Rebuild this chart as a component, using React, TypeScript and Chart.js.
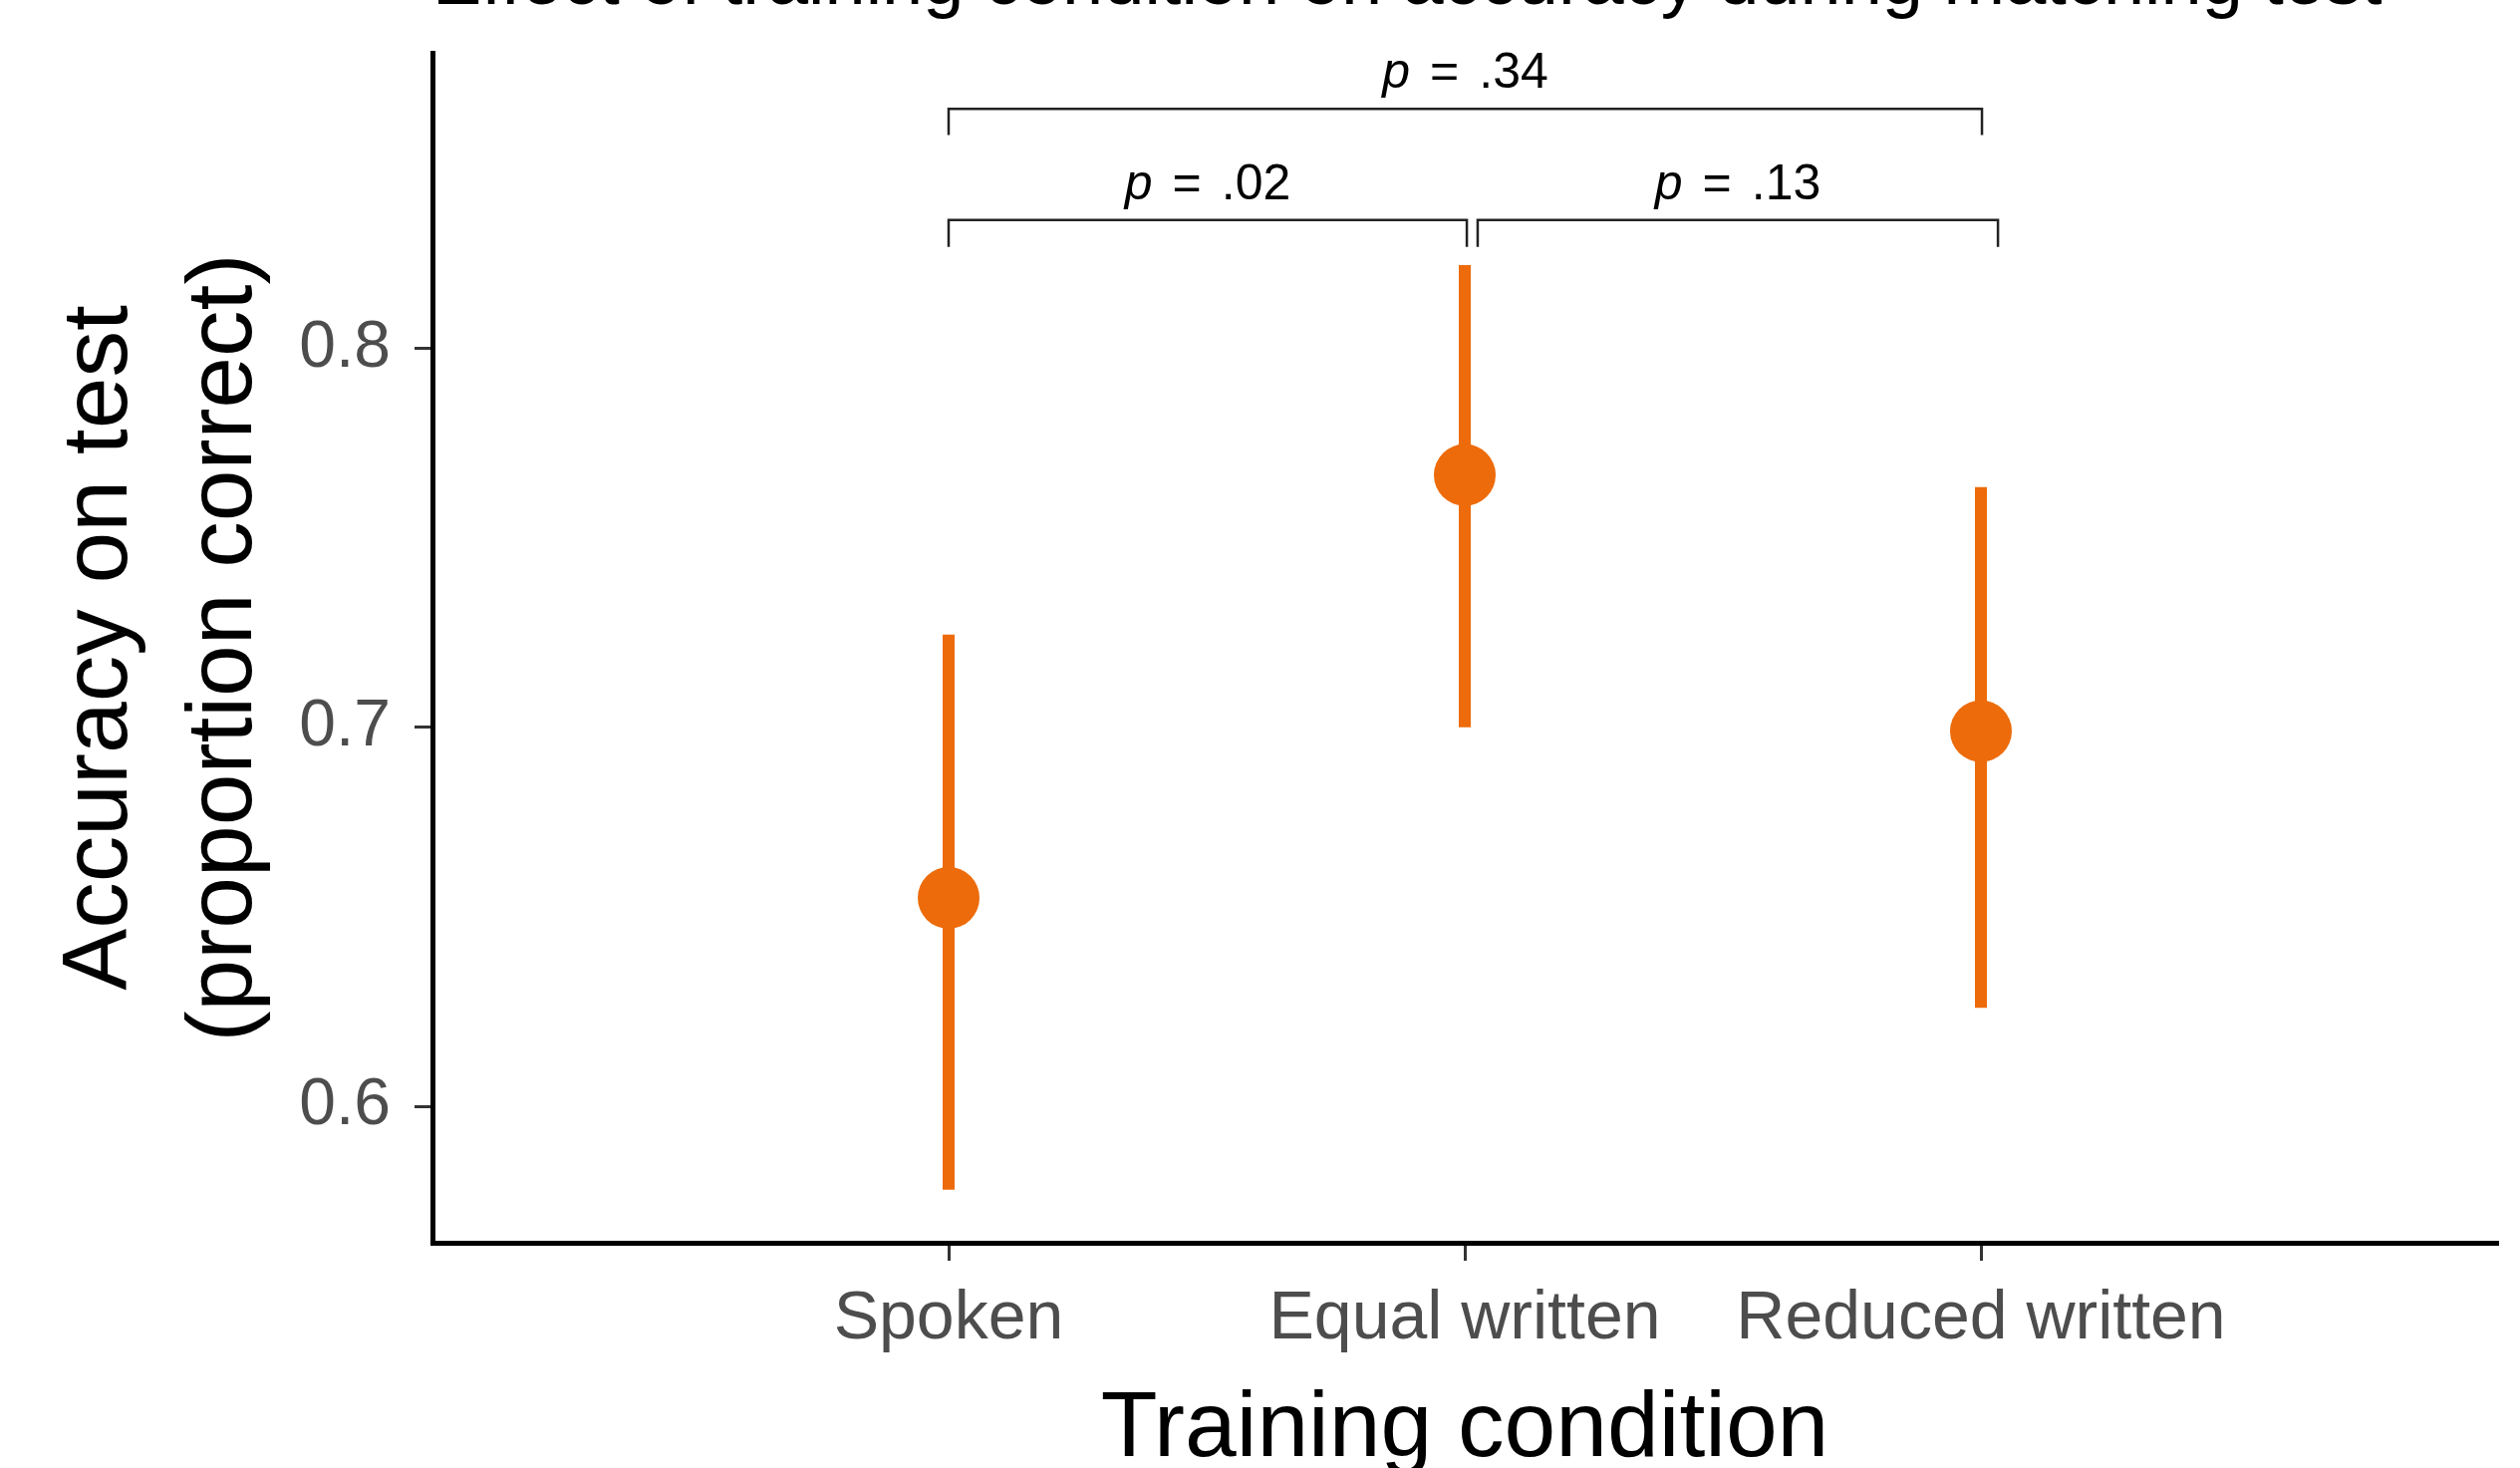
import React, { useEffect, useRef } from 'react';
import { Chart, registerables } from 'chart.js';

Chart.register(...registerables);

// ---------- data ----------
const categories = ['Spoken', 'Equal written', 'Reduced written'];
const categoryPositions = [1, 2, 3];
const means = [0.655, 0.7666, 0.699];
const ciLower = [0.578, 0.7, 0.626];
const ciUpper = [0.7245, 0.822, 0.7634];

const yTickValues = [0.6, 0.7, 0.8];
const yTickLabels = ['0.6', '0.7', '0.8'];

const comparisonLabels = ['.02', '.13', '.34'];
const comparisonStart = [1, 2.025, 1];
const comparisonEnd = [2.004, 3.033, 3.002];
const comparisonTop = [0.8339, 0.8339, 0.8632];
const comparisonTip = [0.8268, 0.8268, 0.8563];

const titleText = 'Effect of training condition on accuracy during matching test';
const xTitleText = 'Training condition';
const yTitleLines = ['Accuracy on test', '(proportion correct)'];

// ---------- styles ----------
const FONT = "'Liberation Sans', Arial, Helvetica, sans-serif";
const ORANGE = '#ED6B0A';

const annotationPlugin = {
  id: 'annotations',
  afterDraw(chart: any) {
    const { ctx, chartArea, scales } = chart;
    const xs = scales.x;
    const ys = scales.y;
    ctx.save();
    ctx.fillStyle = '#000';

    // main title (partly cut at top)
    ctx.font = `74px ${FONT}`;
    ctx.textAlign = 'left';
    ctx.textBaseline = 'alphabetic';
    ctx.fillText(titleText, chartArea.left, 4);

    // x axis title
    ctx.font = `93px ${FONT}`;
    ctx.textAlign = 'center';
    ctx.fillText(xTitleText, (chartArea.left + chartArea.right) / 2, 1461);

    // y axis title (two lines)
    ctx.save();
    ctx.translate(127, (chartArea.top + chartArea.bottom) / 2);
    ctx.rotate(-Math.PI / 2);
    ctx.textAlign = 'center';
    ctx.fillText(yTitleLines[0], 0, 0);
    ctx.fillText(yTitleLines[1], 0, 125);
    ctx.restore();

    // p-value labels
    const size = 50;
    const gap = size * 0.4;
    comparisonLabels.forEach((lab, i) => {
      const cx = (xs.getPixelForValue(comparisonStart[i]) + xs.getPixelForValue(comparisonEnd[i])) / 2;
      const by = ys.getPixelForValue(comparisonTop[i]) - 21;
      ctx.font = `italic ${size}px ${FONT}`;
      const wp = ctx.measureText('p').width;
      ctx.font = `${size}px ${FONT}`;
      const we = ctx.measureText('=').width;
      const wv = ctx.measureText(lab).width;
      const total = wp + gap + we + gap + wv;
      let x = cx - total / 2;
      ctx.textAlign = 'left';
      ctx.font = `italic ${size}px ${FONT}`;
      ctx.fillText('p', x, by);
      x += wp + gap;
      ctx.font = `${size}px ${FONT}`;
      ctx.fillText('=', x, by);
      x += we + gap;
      ctx.fillText(lab, x, by);
    });
    ctx.restore();
  },
};

export default function App() {
  const ref = useRef<HTMLCanvasElement>(null);

  useEffect(() => {
    const pointData = categoryPositions.map((x, i) => ({ x, y: means[i] }));

    const errorSets = categoryPositions.map((x, i) => ({
      label: `ci-${i}`,
      data: [
        { x, y: ciLower[i] },
        { x, y: ciUpper[i] },
      ],
      showLine: true,
      borderColor: ORANGE,
      backgroundColor: ORANGE,
      borderWidth: 12,
      borderCapStyle: 'butt',
      pointRadius: 0,
      order: 1,
      clip: false,
    }));

    const bracketSets = comparisonLabels.map((_, i) => ({
      label: `bracket-${i}`,
      data: [
        { x: comparisonStart[i], y: comparisonTip[i] },
        { x: comparisonStart[i], y: comparisonTop[i] },
        { x: comparisonEnd[i], y: comparisonTop[i] },
        { x: comparisonEnd[i], y: comparisonTip[i] },
      ],
      showLine: true,
      borderColor: '#222',
      borderWidth: 2.5,
      borderJoinStyle: 'miter',
      borderCapStyle: 'butt',
      pointRadius: 0,
      order: 2,
      clip: false,
    }));

    const chart = new Chart(ref.current as HTMLCanvasElement, {
      type: 'scatter',
      data: {
        datasets: [
          {
            label: 'mean',
            data: pointData,
            pointRadius: 31,
            pointHoverRadius: 31,
            pointBackgroundColor: ORANGE,
            pointBorderWidth: 0,
            borderWidth: 0,
            order: 0,
            clip: false,
          },
          ...errorSets,
          ...bracketSets,
        ] as any,
      },
      options: {
        animation: false,
        responsive: false,
        devicePixelRatio: 1,
        events: [],
        layout: { autoPadding: false, padding: { left: 0, right: 23, top: 53, bottom: 0 } },
        plugins: {
          legend: { display: false },
          tooltip: { enabled: false },
          title: { display: false },
        },
        scales: {
          x: {
            type: 'linear',
            position: 'bottom',
            min: 0,
            max: 4,
            afterFit: (s: any) => {
              s.height = 226;
              s.paddingLeft = 0;
              s.paddingRight = 0;
            },
            afterBuildTicks: (s: any) => {
              s.ticks = categoryPositions.map((v) => ({ value: v }));
            },
            ticks: {
              callback: (_v: any, i: number) => categories[i] ?? '',
              font: { size: 68, family: FONT },
              color: '#4d4d4d',
              padding: 18,
              maxRotation: 0,
              minRotation: 0,
              autoSkip: false,
            },
            grid: {
              drawOnChartArea: false,
              drawTicks: true,
              tickLength: 18,
              tickWidth: 3,
              tickColor: '#333',
              color: '#333',
              lineWidth: 3,
            },
            border: { display: true, color: '#000', width: 5 },
          },
          y: {
            type: 'linear',
            position: 'left',
            min: 0.564,
            max: 0.878,
            afterFit: (s: any) => {
              s.width = 434;
              s.paddingTop = 0;
              s.paddingBottom = 0;
            },
            afterBuildTicks: (s: any) => {
              s.ticks = yTickValues.map((v) => ({ value: v }));
            },
            ticks: {
              callback: (_v: any, i: number) => yTickLabels[i] ?? '',
              font: { size: 66, family: FONT },
              color: '#4d4d4d',
              padding: 24,
            },
            grid: {
              drawOnChartArea: false,
              drawTicks: true,
              tickLength: 18,
              tickWidth: 3,
              tickColor: '#333',
              color: '#333',
              lineWidth: 3,
            },
            border: { display: true, color: '#000', width: 5 },
          },
        },
      } as any,
      plugins: [annotationPlugin],
    });

    return () => chart.destroy();
  }, []);

  return (
    <div
      style={{
        position: 'fixed',
        left: 0,
        top: 0,
        width: 2529,
        height: 1473,
        background: '#fff',
      }}
    >
      <canvas
        ref={ref}
        width={2529}
        height={1473}
        style={{ display: 'block', width: 2529, height: 1473 }}
      />
    </div>
  );
}
